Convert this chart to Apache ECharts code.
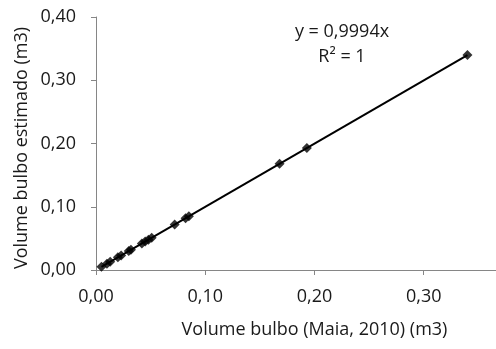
<!DOCTYPE html>
<html>
<head>
<meta charset="utf-8">
<script src="https://cdn.jsdelivr.net/npm/echarts@6/dist/echarts.min.js"></script>
<style>html,body{margin:0;padding:0;background:#fff}#c{width:496px;height:349px}</style>
</head>
<body>
<div id="c"></div>
<script>
// Data
var xValues = [0.005, 0.010, 0.013, 0.020, 0.023, 0.030, 0.032, 0.042, 0.045, 0.048, 0.051, 0.072, 0.082, 0.085, 0.168, 0.193, 0.340];
var yValues = [0.005, 0.010, 0.013, 0.020, 0.023, 0.030, 0.032, 0.042, 0.045, 0.048, 0.051, 0.072, 0.082, 0.085, 0.168, 0.193, 0.340];
var slope = 0.9994;
var equationText = "y = 0,9994x";
var r2Text = "R² = 1";
var xTitle = "Volume bulbo (Maia, 2010) (m3)";
var yTitle = "Volume bulbo estimado (m3)";

var pts = xValues.map(function (x, i) { return [x, yValues[i]]; });
var xmin = Math.min.apply(null, xValues), xmax = Math.max.apply(null, xValues);
var trend = [[xmin, slope * xmin], [xmax, slope * xmax]];

var font = "'Open Sans', 'Liberation Sans', sans-serif";
var txtCol = '#1a1a1a';
var axisCol = '#868686';
var fmt = function (v) { return v.toFixed(2).replace('.', ','); };

var chart = echarts.init(document.getElementById('c'));
chart.setOption({
  animation: false,
  grid: { left: 96, top: 17, bottom: 79, right: -37, outerBoundsMode: 'none', containLabel: false },
  xAxis: {
    type: 'value', min: 0, max: 0.4, interval: 0.1,
    name: xTitle, nameLocation: 'middle', nameGap: 51,
    nameTextStyle: { color: txtCol, fontFamily: font, fontSize: 18 },
    axisLine: { show: true, lineStyle: { color: axisCol, width: 1 } },
    axisTick: { show: true, length: 5, lineStyle: { color: axisCol } },
    splitLine: { show: false },
    axisLabel: { formatter: fmt, color: txtCol, fontFamily: font, fontSize: 18, margin: 18 }
  },
  yAxis: {
    type: 'value', min: 0, max: 0.4, interval: 0.1,
    axisLine: { show: true, lineStyle: { color: axisCol, width: 1 } },
    axisTick: { show: true, length: 5, lineStyle: { color: axisCol } },
    splitLine: { show: false },
    axisLabel: { formatter: fmt, color: txtCol, fontFamily: font, fontSize: 18, margin: 20 }
  },
  graphic: [
    { type: 'text', x: 22, y: 148, rotation: Math.PI / 2, style: { text: yTitle, font: '18px ' + font, fill: txtCol, align: 'center', verticalAlign: 'middle' } },
    { type: 'text', x: 342, y: 32, style: { text: equationText, font: '18px ' + font, fill: txtCol, align: 'center', verticalAlign: 'middle' } },
    { type: 'text', x: 342, y: 57, style: { text: r2Text, font: '18px ' + font, fill: txtCol, align: 'center', verticalAlign: 'middle' } }
  ],
  series: [
    {
      type: 'line', data: trend, symbol: 'none', silent: true,
      lineStyle: { color: '#000', width: 2 }, z: 1
    },
    {
      type: 'scatter', data: pts, symbol: 'diamond', symbolSize: 10,
      itemStyle: { color: '#000' }, z: 2
    }
  ]
});
</script>
</body>
</html>
